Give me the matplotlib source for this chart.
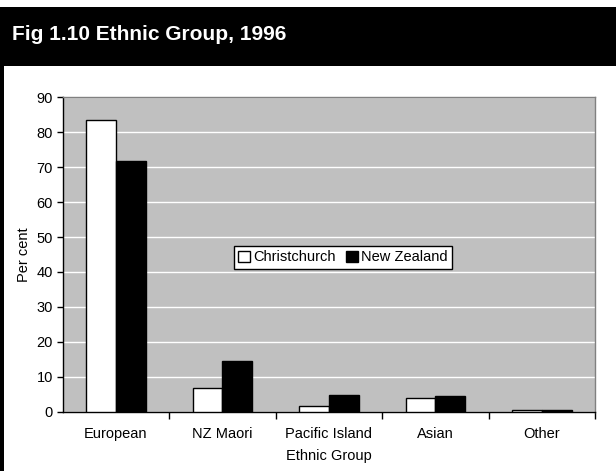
import numpy as np
import matplotlib
matplotlib.use('Agg')
import matplotlib.pyplot as plt
from matplotlib.patches import Rectangle

plt.rcParams['font.family'] = ['Liberation Sans', 'DejaVu Sans']

# data
groups = ['European', 'NZ Maori', 'Pacific Island', 'Asian', 'Other']
christchurch = [83.6, 6.9, 1.7, 4.0, 0.5]
new_zealand = [71.7, 14.5, 4.8, 4.4, 0.5]

fig = plt.figure(figsize=(6.16, 4.71), dpi=100)

# black title bar and left frame line
fig.patches.append(Rectangle((0, 1 - 66 / 471), 1, 59 / 471, transform=fig.transFigure,
                             facecolor='black', edgecolor='none', zorder=0))
fig.patches.append(Rectangle((0, 0), 4 / 616, 1 - 66 / 471, transform=fig.transFigure,
                             facecolor='black', edgecolor='none', zorder=0))
fig.text(12 / 616, 1 - 34 / 471, 'Fig 1.10 Ethnic Group, 1996', color='white',
         fontsize=15, fontweight='bold', va='center', ha='left')

ax = fig.add_axes([62.7 / 616, 1 - 411.7 / 471, (595 - 62.7) / 616, (411.7 - 97.3) / 471])
ax.set_facecolor('#c0c0c0')

x = np.arange(len(groups))
w = 0.28
ax.bar(x - w / 2, christchurch, w, color='white', edgecolor='black', linewidth=1,
       label='Christchurch', zorder=3)
ax.bar(x + w / 2, new_zealand, w, color='black', edgecolor='black', linewidth=1,
       label='New Zealand', zorder=3)

ax.set_xlim(-0.5, len(groups) - 0.5)
ax.set_ylim(0, 90)
ax.set_yticks(np.arange(0, 91, 10))
ax.yaxis.grid(True, color='white', linewidth=1)
ax.set_axisbelow(True)

ax.set_xticks(x)
ax.set_xticklabels(groups)
ax.set_xticks(np.arange(0.5, len(groups), 1), minor=True)
ax.tick_params(axis='x', which='major', length=0, pad=11, labelsize=10.5)
ax.tick_params(axis='x', which='minor', length=5, width=1, direction='out', color='black')
ax.tick_params(axis='y', length=4, width=1, direction='out', labelsize=10.5, pad=3)

for s in ['top', 'right']:
    ax.spines[s].set_color('#808080')
    ax.spines[s].set_linewidth(1)
for s in ['left', 'bottom']:
    ax.spines[s].set_color('black')
    ax.spines[s].set_linewidth(1)

ax.set_ylabel('Per cent', fontsize=10.5, labelpad=4)
ax.set_xlabel('Ethnic Group', fontsize=10.5, labelpad=6)

leg = ax.legend(loc='center', bbox_to_anchor=(0.5266, 0.4905), ncol=2, fontsize=10.5,
                frameon=True, fancybox=False, framealpha=1, edgecolor='black',
                handlelength=0.85, handleheight=0.85, handletextpad=0.2, columnspacing=0.7,
                borderpad=0.3, borderaxespad=0)
leg.get_frame().set_linewidth(1)

fig.savefig('out.png', dpi=100)
